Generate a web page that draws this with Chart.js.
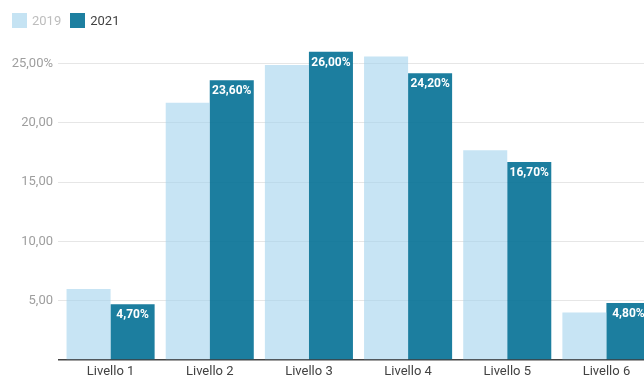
<!DOCTYPE html>
<html>
<head>
<meta charset="utf-8">
<script src="https://cdn.jsdelivr.net/npm/chart.js@4/dist/chart.umd.min.js"></script>
<style>
  html, body { margin: 0; padding: 0; overflow: hidden; background: #fff; }
  #wrap { position: relative; width: 656px; height: 378px; }
  #legend { position: absolute; left: 12px; top: 13px; font: 13px Roboto, sans-serif; display: flex; align-items: center; }
  .item { display: flex; align-items: center; margin-right: 9px; }
  .box { width: 15px; height: 15px; margin-right: 5px; }
</style>
</head>
<body>
<div id="wrap">
  <canvas id="c" width="656" height="378"></canvas>
  <div id="legend"></div>
</div>
<script>
const categories = ['Livello 1', 'Livello 2', 'Livello 3', 'Livello 4', 'Livello 5', 'Livello 6'];
const values2019 = [6.0, 21.7, 24.9, 25.6, 17.7, 4.0];
const values2021 = [4.7, 23.6, 26.0, 24.2, 16.7, 4.8];
const yTicks = [0, 5, 10, 15, 20, 25];

const seriesNames = ['2019', '2021'];
const colors = ['rgba(161,210,237,0.6)', 'rgba(3,112,149,0.9)'];
const legendSwatch = ['#c5e3f3', '#1d7fa0'];
const legendText = ['#bdbdbd', '#424242'];

const fmt = v => v.toFixed(2).replace('.', ',');

// legend
const legend = document.getElementById('legend');
seriesNames.forEach((n, i) => {
  const it = document.createElement('div');
  it.className = 'item';
  it.innerHTML = '<div class="box" style="background:' + legendSwatch[i] + '"></div><span style="color:' + legendText[i] + '">' + n + '</span>';
  legend.appendChild(it);
});

// white value labels inside the top of the 2021 bars
const valueLabels = {
  id: 'valueLabels',
  afterDatasetsDraw(chart) {
    const ctx = chart.ctx;
    const meta = chart.getDatasetMeta(1);
    ctx.save();
    ctx.font = 'bold 12px Roboto, sans-serif';
    ctx.fillStyle = '#ffffff';
    ctx.textAlign = 'center';
    ctx.textBaseline = 'middle';
    meta.data.forEach((bar, i) => {
      ctx.fillText(fmt(values2021[i]) + '%', bar.x, bar.y + 11);
    });
    ctx.restore();
  }
};

new Chart(document.getElementById('c'), {
  type: 'bar',
  data: {
    labels: categories,
    datasets: [
      { label: seriesNames[0], data: values2019, backgroundColor: colors[0], borderWidth: 0 },
      { label: seriesNames[1], data: values2021, backgroundColor: colors[1], borderWidth: 0 }
    ]
  },
  options: {
    responsive: false,
    animation: false,
    devicePixelRatio: 1,
    layout: { padding: { top: 40, left: 0, right: 0, bottom: 0 } },
    datasets: { bar: { categoryPercentage: 0.888, barPercentage: 1.0 } },
    plugins: { legend: { display: false }, tooltip: { enabled: false } },
    scales: {
      x: {
        grid: { display: false, drawTicks: false },
        border: { display: false },
        ticks: { color: '#424242', font: { family: 'Roboto', size: 13 }, padding: 4, maxRotation: 0 },
        afterFit(s) { s.height = 18; }
      },
      y: {
        min: 0,
        max: 27,
        afterBuildTicks(s) { s.ticks = yTicks.map(v => ({ value: v })); },
        afterFit(s) { s.width = 61; },
        border: { display: false },
        grid: {
          color: c => c.tick && c.tick.value === 0 ? '#444444' : '#e6e6e6',
          lineWidth: c => c.tick && c.tick.value === 0 ? 1.5 : 1,
          tickLength: 3
        },
        ticks: {
          color: '#9e9e9e',
          font: { family: 'Roboto', size: 13 },
          padding: 5,
          callback: v => v === 0 ? '' : (v === 25 ? fmt(v) + '%' : fmt(v))
        }
      }
    }
  },
  plugins: [valueLabels]
});
</script>
</body>
</html>
